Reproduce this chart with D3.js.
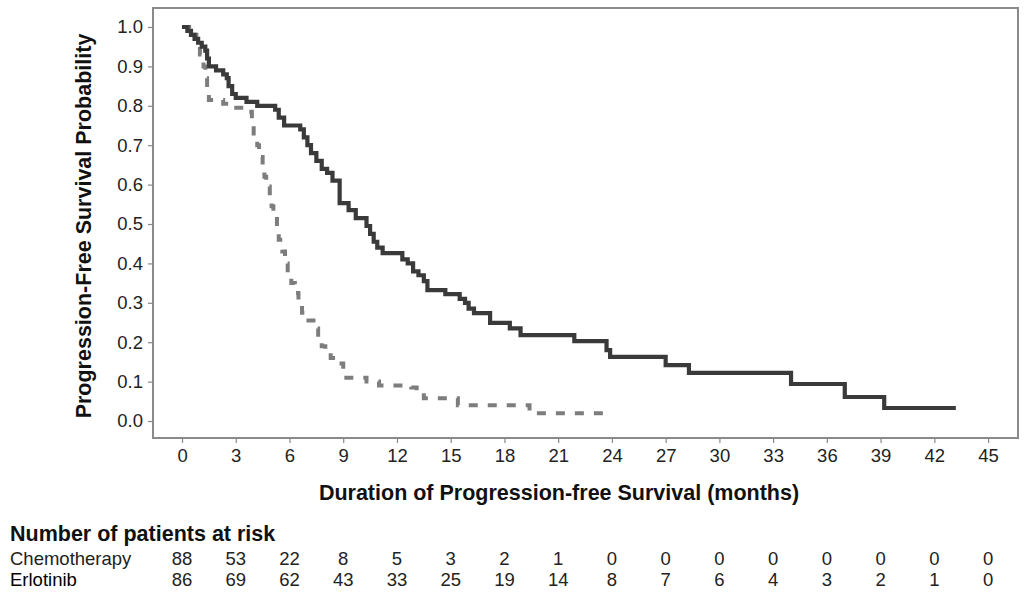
<!DOCTYPE html>
<html>
<head>
<meta charset="utf-8">
<script src="https://cdn.jsdelivr.net/npm/d3@7"></script>
<style>
  body { margin: 0; background: #fff; }
  text { font-family: "Liberation Sans", Arial, sans-serif; }
</style>
</head>
<body>
<div id="chart"></div>
<script>
// Kaplan-Meier step points (months, probability)
var erloTime = [0, 0.3, 0.5, 0.7, 0.9, 1.1, 1.3, 1.4, 1.5, 1.9, 2.3, 2.5, 2.6, 2.8, 3.0, 3.6, 4.2, 5.2, 5.4, 5.7,
    6.6, 6.8, 7.0, 7.2, 7.5, 7.8, 8.1, 8.4, 8.8, 9.3, 9.7, 10.3, 10.5, 10.7, 10.9, 11.2, 12.3, 12.6, 12.9, 13.2,
    13.5, 13.7, 14.7, 15.5, 15.8, 16.0, 16.3, 17.2, 18.3, 18.9, 21.9, 23.7, 23.9, 27.0, 28.3, 34.0, 37.0, 39.2, 43.2];
var erloSurv = [1.0, 0.99, 0.98, 0.97, 0.96, 0.95, 0.94, 0.92, 0.90, 0.89, 0.88, 0.87, 0.85, 0.83, 0.82, 0.81, 0.80, 0.79, 0.77, 0.75,
    0.74, 0.72, 0.70, 0.68, 0.66, 0.64, 0.63, 0.61, 0.553, 0.535, 0.515, 0.495, 0.475, 0.455, 0.44, 0.426, 0.41, 0.40, 0.38, 0.37,
    0.355, 0.332, 0.322, 0.31, 0.30, 0.285, 0.274, 0.249, 0.235, 0.218, 0.203, 0.18, 0.163, 0.142, 0.122, 0.094, 0.061, 0.033, 0.033];

var chemoTime = [0, 0.4, 0.8, 1.0, 1.2, 1.3, 1.4, 1.5, 2.3, 2.8, 3.6, 3.9, 4.0, 4.2, 4.3, 4.5, 4.6, 4.7, 4.9, 5.0,
    5.1, 5.3, 5.4, 5.6, 5.75, 5.9, 6.1, 6.3, 6.5, 6.7, 6.9, 7.5, 7.6, 7.8, 8.0, 8.3, 8.7, 9.0, 10.3, 11.0,
    12.8, 13.1, 13.5, 15.4, 19.4, 23.6];
var chemoSurv = [1.0, 0.98, 0.96, 0.93, 0.90, 0.87, 0.84, 0.815, 0.805, 0.795, 0.785, 0.76, 0.73, 0.70, 0.67, 0.645, 0.62, 0.595, 0.57, 0.545,
    0.52, 0.485, 0.46, 0.43, 0.40, 0.375, 0.35, 0.325, 0.30, 0.275, 0.255, 0.235, 0.21, 0.19, 0.175, 0.16, 0.146, 0.11, 0.10, 0.09,
    0.085, 0.075, 0.058, 0.04, 0.02, 0.0];

// Number at risk table
var riskTimes = [0, 3, 6, 9, 12, 15, 18, 21, 24, 27, 30, 33, 36, 39, 42, 45];
var chemoRisk = [88, 53, 22, 8, 5, 3, 2, 1, 0, 0, 0, 0, 0, 0, 0, 0];
var erloRisk = [86, 69, 62, 43, 33, 25, 19, 14, 8, 7, 6, 4, 3, 2, 1, 0];

var yTicks = [0, 0.1, 0.2, 0.3, 0.4, 0.5, 0.6, 0.7, 0.8, 0.9, 1.0];

var width = 1032, height = 599;
var plot = { left: 153, top: 8, right: 1018, bottom: 438 };

var svg = d3.select("#chart")
    .append("svg")
    .attr("width", width)
    .attr("height", height);

var x = d3.scaleLinear()
    .domain([-1.62, 46.67])
    .range([plot.left, plot.right]);

var y = d3.scaleLinear()
    .domain([-0.0431, 1.0482])
    .range([plot.bottom, plot.top]);

// Axes
var xAxis = svg.append("g")
    .attr("transform", "translate(0," + plot.bottom + ")")
    .call(d3.axisBottom(x).tickValues(riskTimes).tickSize(5).tickPadding(6));

var yAxis = svg.append("g")
    .attr("transform", "translate(" + plot.left + ",0)")
    .call(d3.axisLeft(y).tickValues(yTicks).tickFormat(d3.format(".1f")).tickSize(5).tickPadding(5));

[xAxis, yAxis].forEach(function (g) {
    g.select(".domain").remove();
    g.selectAll(".tick line").attr("stroke", "#888").attr("stroke-width", 1.2);
    g.selectAll(".tick text")
        .attr("fill", "#222")
        .style("font-size", "18.5px")
        .style("font-family", "Liberation Sans, Arial, sans-serif");
});

// Frame
svg.append("rect")
    .attr("x", plot.left)
    .attr("y", plot.top)
    .attr("width", plot.right - plot.left)
    .attr("height", plot.bottom - plot.top)
    .attr("fill", "none")
    .attr("stroke", "#8a8a8a")
    .attr("stroke-width", 2);

// Curves
var step = d3.line()
    .x(function (d) { return x(d[0]); })
    .y(function (d) { return y(d[1]); })
    .curve(d3.curveStepAfter);

var chemo = chemoTime.map(function (t, i) { return [t, chemoSurv[i]]; });
var erlo = erloTime.map(function (t, i) { return [t, erloSurv[i]]; });

svg.append("path")
    .datum(chemo)
    .attr("d", step)
    .attr("fill", "none")
    .attr("stroke", "#7d7d7d")
    .attr("stroke-width", 4)
    .attr("stroke-dasharray", "9,10");

svg.append("path")
    .datum(erlo)
    .attr("d", step)
    .attr("fill", "none")
    .attr("stroke", "#3a3a3a")
    .attr("stroke-width", 4.2);

// Axis titles
svg.append("text")
    .attr("x", 559)
    .attr("y", 500)
    .attr("text-anchor", "middle")
    .style("font-size", "21.5px")
    .style("font-weight", "bold")
    .attr("fill", "#111")
    .text("Duration of Progression-free Survival (months)");

svg.append("text")
    .attr("transform", "translate(91,226) rotate(-90)")
    .attr("text-anchor", "middle")
    .style("font-size", "21.5px")
    .style("font-weight", "bold")
    .attr("fill", "#111")
    .text("Progression-Free Survival Probability");

// Risk table
svg.append("text")
    .attr("x", 10)
    .attr("y", 541)
    .style("font-size", "21.5px")
    .style("font-weight", "bold")
    .attr("fill", "#111")
    .text("Number of patients at risk");

svg.append("text")
    .attr("x", 10)
    .attr("y", 565)
    .style("font-size", "18.5px")
    .attr("fill", "#222")
    .text("Chemotherapy");

svg.append("text")
    .attr("x", 10)
    .attr("y", 586)
    .style("font-size", "18.5px")
    .attr("fill", "#000")
    .text("Erlotinib");

svg.selectAll(".risk-chemo")
    .data(chemoRisk)
    .enter()
    .append("text")
    .attr("class", "risk-chemo")
    .attr("x", function (d, i) { return x(riskTimes[i]); })
    .attr("y", 565)
    .attr("text-anchor", "middle")
    .style("font-size", "18.5px")
    .attr("fill", "#222")
    .text(function (d) { return d; });

svg.selectAll(".risk-erlo")
    .data(erloRisk)
    .enter()
    .append("text")
    .attr("class", "risk-erlo")
    .attr("x", function (d, i) { return x(riskTimes[i]); })
    .attr("y", 586)
    .attr("text-anchor", "middle")
    .style("font-size", "18.5px")
    .attr("fill", "#222")
    .text(function (d) { return d; });
</script>
</body>
</html>
